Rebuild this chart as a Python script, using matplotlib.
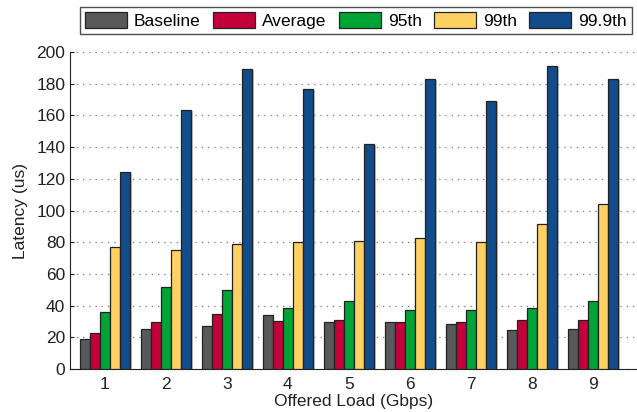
import matplotlib.pyplot as plt
import matplotlib.patheffects as pe
import numpy as np

plt.rcParams['font.family'] = ['Liberation Sans', 'DejaVu Sans']

#offered load in Gbps
loads = [1, 2, 3, 4, 5, 6, 7, 8, 9]
series_names = ['Baseline', 'Average', '95th', '99th', '99.9th']

#latency in us for each percentile
baseline = [19.3, 25.0, 27.5, 34.0, 29.6, 29.6, 28.5, 24.7, 25.6]
average = [22.8, 29.6, 35.0, 30.4, 31.2, 29.6, 29.6, 31.2, 31.2]
p95 = [35.8, 51.6, 49.7, 38.6, 43.2, 37.5, 37.5, 38.6, 43.2]
p99 = [77.3, 75.4, 79.2, 80.0, 80.9, 82.8, 80.0, 91.2, 104.2]
p999 = [124.6, 163.5, 189.4, 176.5, 141.8, 182.8, 169.0, 191.3, 182.8]

colors = ['#58595b', '#c4003a', '#00a335', '#ffd062', '#124c8a']

fig = plt.figure(figsize=(6.37, 4.12), dpi=100)
ax = fig.add_axes([0.110, 0.104, 0.89, 0.770])

x = np.array(loads)
w = 0.166
shadow = [pe.SimplePatchShadow(offset=(1.2, -0.8), shadow_rgbFace='#999999', alpha=0.6), pe.Normal()]
for i, (vals, name) in enumerate(zip([baseline, average, p95, p99, p999], series_names)):
    ax.bar(x + (i - 2) * w, vals, width=w, color=colors[i], edgecolor='#222222',
           linewidth=0.9, label=name, zorder=3, path_effects=shadow)

ax.set_xlim(0.43, 9.72)
ax.set_ylim(0, 200)
ax.set_yticks(range(0, 201, 20))
ax.set_xticks(loads)
ax.yaxis.grid(True, linestyle=(0, (1, 4)), color='#777777', linewidth=0.9, zorder=0)
ax.spines['top'].set_visible(False)
ax.spines['right'].set_visible(False)
ax.spines['left'].set_color('#222222')
ax.spines['bottom'].set_color('#222222')
ax.tick_params(axis='y', direction='in', length=3, labelsize=12.5, colors='#222222')
ax.tick_params(axis='x', length=0, labelsize=12.5, colors='#222222', pad=6)
ax.set_xlabel('Offered Load (Gbps)', fontsize=12.5, color='#222222', labelpad=1)
ax.set_ylabel('Latency (us)', fontsize=12.5, color='#222222', labelpad=6)

leg = fig.legend(loc='lower left', bbox_to_anchor=(0.126, 0.917, 0.866, 0.064),
                 mode='expand', ncol=5, fontsize=12.5, frameon=True, fancybox=False,
                 handlelength=2.4, handleheight=1.0, handletextpad=0.4,
                 columnspacing=0.8, borderpad=0.3, borderaxespad=0)
leg.get_frame().set_edgecolor('#222222')
leg.get_frame().set_linewidth(1.0)
for h in leg.legend_handles:
    h.set_path_effects([])

plt.savefig('out.png', dpi=100)
